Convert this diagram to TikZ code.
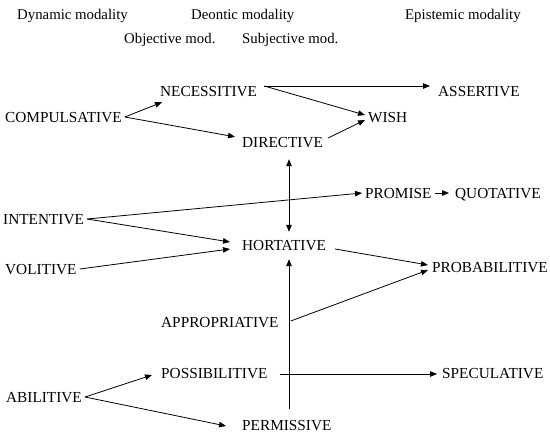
\documentclass[tikz,border=0pt]{standalone}
\usepackage{fontspec}
\setmainfont{Liberation Serif}
\usetikzlibrary{arrows.meta, calc}

\begin{document}
\begin{tikzpicture}[x=1pt, y=-1pt,
    >={Triangle[length=7pt, width=5.5pt]},
    head/.style={font=\fontsize{14.8}{17}\selectfont, inner sep=0pt, anchor=base west},
    term/.style={font=\fontsize{15.3}{18}\selectfont, inner sep=3pt,
                 text height=10pt, text depth=0pt, anchor=base west},
    link/.style={->, line width=0.8pt}]

    \useasboundingbox (0,0) rectangle (550,440);

    % column headings
    \node[head] (dyn) at (17,19) {Dynamic modality};
    \node[head] (deont) at (191,19) {Deontic modality};
    \node[head] (epist) at (405,19) {Epistemic modality};
    \node[head] (objmod) at (124,43) {Objective mod.};
    \node[head] (subjmod) at (242,43) {Subjective mod.};

    % modality types
    \node[term] (compul) at (2,122) {COMPULSATIVE};
    \node[term] (necess) at (157,96) {NECESSITIVE};
    \node[term] (direct) at (239,147) {DIRECTIVE};
    \node[term] (assert) at (435,96) {ASSERTIVE};
    \node[term] (wish) at (365,122) {WISH};
    \node[term] (promise) at (362,198) {PROMISE};
    \node[term] (quot) at (452,198) {QUOTATIVE};
    \node[term] (intent) at (0,224) {INTENTIVE};
    \node[term] (hort) at (239,250) {HORTATIVE};
    \node[term] (volit) at (2,274) {VOLITIVE};
    \node[term] (probab) at (429,272) {PROBABILITIVE};
    \node[term] (approp) at (158,327) {APPROPRIATIVE};
    \node[term] (possib) at (158,378) {POSSIBILITIVE};
    \node[term] (specul) at (439,378) {SPECULATIVE};
    \node[term] (abil) at (3,402) {ABILITIVE};
    \node[term] (permis) at (239,430) {PERMISSIVE};

    % vertical axis through the deontic column
    \coordinate (axis) at (289,0);

    % upper group
    \draw[link] (compul.east) -- ($(necess.south west)+(5,3)$);
    \draw[link] (compul.east) -- ($(direct.north west)+(-4,3)$);
    \draw[link] ($(necess.east)+(4,-5)$) -- ($(assert.west)+(-5,-5)$);
    \draw[link] ($(necess.east)+(4,-5)$) -- ($(wish.west)+(0,-2)$);
    \draw[link] ($(direct.east)+(2,-4)$) -- ($(wish.west)+(0,3)$);
    \draw[link, <->] ($(direct.south -| axis)+(0,9)$) -- ($(hort.north -| axis)+(0,-5)$);

    % middle group
    \draw[link] (intent.east) -- (promise.west);
    \draw[link, shorten >=3pt] (promise.east) -- (quot.west);
    \draw[link] (intent.east) -- ($(hort.west)+(-9,-3)$);
    \draw[link] (volit.east) -- ($(hort.west)+(-9,4)$);
    \draw[link] ($(hort.east)+(6,4)$) -- ($(probab.west)+(-1,-2)$);
    \draw[link] ($(approp.east)+(9,-1)$) -- ($(probab.west)+(-1,3)$);

    % lower group
    \draw[link] ($(permis.north -| axis)+(0,-8)$) -- ($(hort.south -| axis)+(0,6)$);
    \draw[link] ($(possib.east)+(9,1)$) -- ($(specul.west)+(-2,1)$);
    \draw[link] (abil.east) -- ($(possib.west)+(-6,2)$);
    \draw[link] (abil.east) -- ($(permis.west)+(-13,1)$);
\end{tikzpicture}
\end{document}
